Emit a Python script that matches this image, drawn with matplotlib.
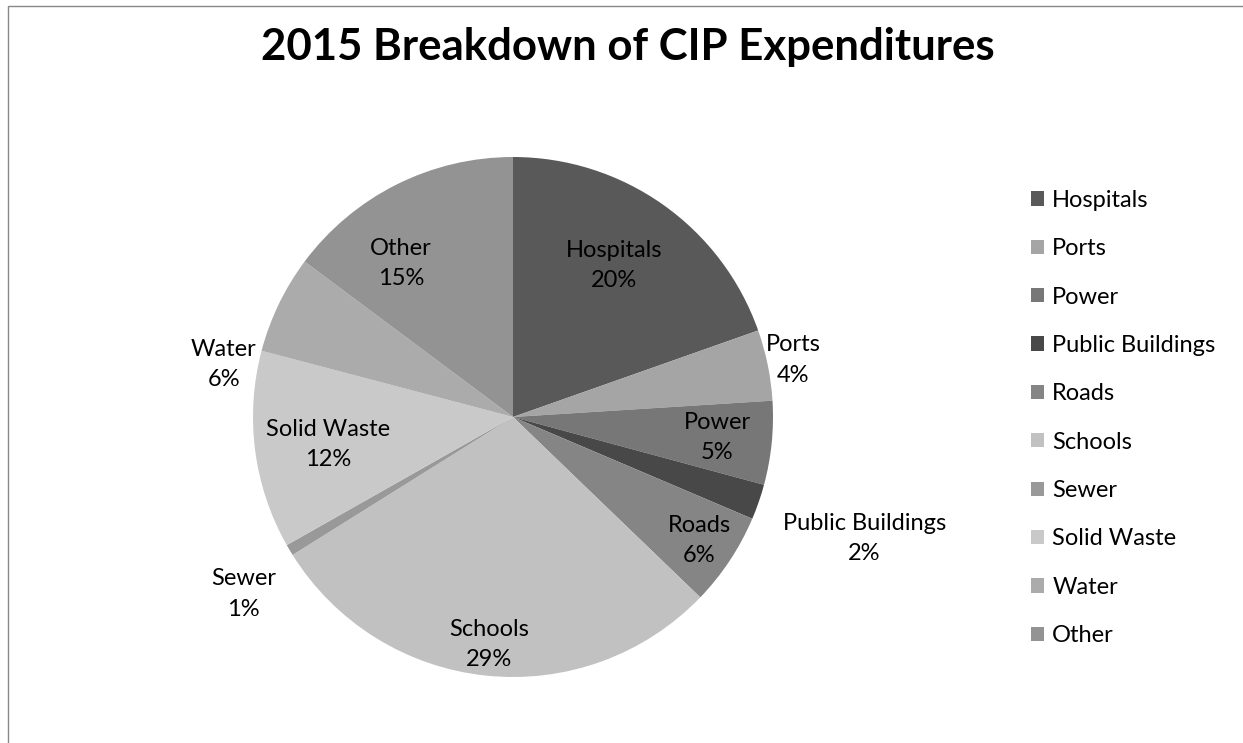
import numpy as np
import matplotlib
matplotlib.use("Agg")
import matplotlib.pyplot as plt
from matplotlib.patches import Rectangle

categories = ["Hospitals", "Ports", "Power", "Public Buildings", "Roads",
              "Schools", "Sewer", "Solid Waste", "Water", "Other"]
values = [19.6, 4.4, 5.2, 2.2, 5.8, 28.9, 0.7, 12.3, 6.1, 14.8]
colors = ["#595959", "#a5a5a5", "#777777", "#484848", "#858585",
          "#c1c1c1", "#999999", "#c9c9c9", "#ababab", "#939393"]

# label placement: fraction of radius, angle shift from wedge middle (deg)
label_r = [0.70, 1.10, 0.79, 1.43, 0.86, 0.88, 1.24, 0.72, 1.13, 0.73]
label_shift = [-1.5, 0, 0, 0, 0, 0, -2.5, -1, -15.5, -9.5]

plt.rcParams['font.family'] = ['Lato', 'DejaVu Sans']

W, H = 1243, 743
fig = plt.figure(figsize=(W / 100, H / 100), dpi=100)
ax = fig.add_axes([0, 0, 1, 1])

cx, cy, R = 513, H - 417, 260
wedges, _ = ax.pie(values, colors=colors, startangle=90, counterclock=False,
                   center=(cx, cy), radius=R, frame=True,
                   wedgeprops=dict(linewidth=0))
ax.set_xlim(0, W)
ax.set_ylim(0, H)
ax.axis('off')

total = sum(values)
cum = 0
for i, v in enumerate(values):
    mid = (cum + v / 2) / total * 360 + label_shift[i]
    cum += v
    th = np.deg2rad(mid)
    x = cx + label_r[i] * R * np.sin(th)
    y = cy + label_r[i] * R * np.cos(th)
    ax.text(x, y, f"{categories[i]}\n{round(v)}%", ha='center', va='center',
            fontsize=17, color='black', linespacing=1.55)

ax.text(628, H - 47, "2015 Breakdown of CIP Expenditures", ha='center',
        va='center', fontsize=31.5, fontweight='bold')

leg = ax.legend(wedges, categories, loc='center left',
                bbox_to_anchor=(1031 / W, 1 - 418 / H), frameon=False,
                fontsize=17, labelspacing=1.16, handlelength=0.55,
                handleheight=0.55, handletextpad=0.35, borderpad=0,
                borderaxespad=0)

fig.patches.append(Rectangle((8 / W, -0.1), 1.2, 1.1 - 6 / H,
                             transform=fig.transFigure, fill=False,
                             edgecolor='#888888', linewidth=1.0))

fig.savefig("out.png", dpi=100)
